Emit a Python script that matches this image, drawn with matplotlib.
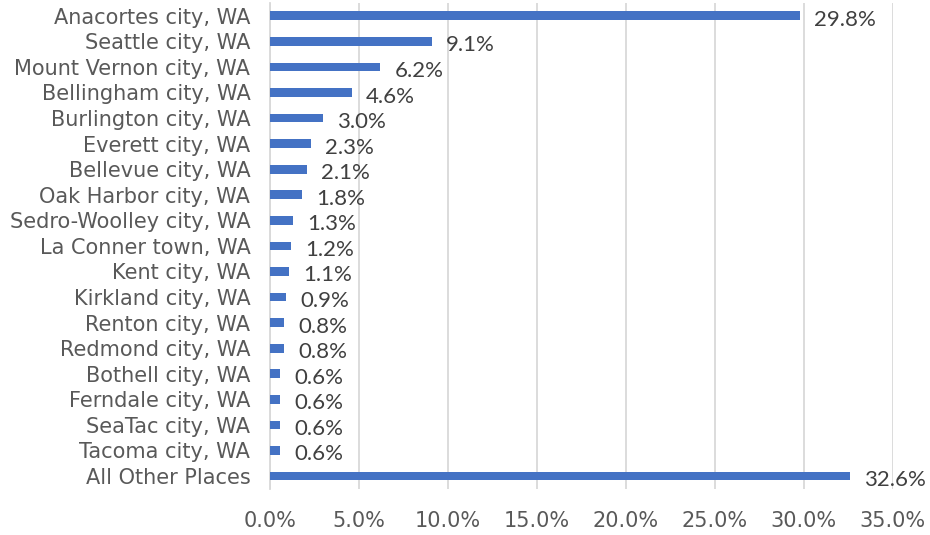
import matplotlib
matplotlib.use("Agg")
import matplotlib.pyplot as plt
from matplotlib.ticker import FuncFormatter

# ── data ────────────────────────────────────────────────────────────────
places = [
    "Anacortes city, WA", "Seattle city, WA", "Mount Vernon city, WA",
    "Bellingham city, WA", "Burlington city, WA", "Everett city, WA",
    "Bellevue city, WA", "Oak Harbor city, WA", "Sedro-Woolley city, WA",
    "La Conner town, WA", "Kent city, WA", "Kirkland city, WA",
    "Renton city, WA", "Redmond city, WA", "Bothell city, WA",
    "Ferndale city, WA", "SeaTac city, WA", "Tacoma city, WA",
    "All Other Places",
]
shares = [29.8, 9.1, 6.2, 4.6, 3.0, 2.3, 2.1, 1.8, 1.3, 1.2,
          1.1, 0.9, 0.8, 0.8, 0.6, 0.6, 0.6, 0.6, 32.6]
x_ticks = [0, 5, 10, 15, 20, 25, 30, 35]

BAR_COLOR = "#4472C4"
GRID_COLOR = "#D9D9D9"
TEXT_COLOR = "#595959"

fig = plt.figure(figsize=(9.3, 5.35), dpi=100)
ax = fig.add_axes([0.290, 0.0864, 0.670, 0.908])

y = list(range(len(places)))
ax.barh(y, shares, height=0.34, color=BAR_COLOR, zorder=3)

# 数据标签（略低于条形中心，与原图一致）
for yi, v in zip(y, shares):
    ax.text(v + 0.8, yi + 0.08, f"{v:.1f}%", va="center_baseline", ha="left",
            fontsize=16, color="#404040", family="Lato")

ax.set_ylim(len(places) - 0.5, -0.5)
ax.set_yticks(y)
ax.set_yticklabels(places, fontsize=15, color=TEXT_COLOR, family="DejaVu Sans")

ax.set_xlim(0, 35)
ax.set_xticks(x_ticks)
ax.xaxis.set_major_formatter(FuncFormatter(lambda v, _: f"{v:.1f}%"))
for lbl in ax.get_xticklabels():
    lbl.set_fontsize(15)
    lbl.set_color(TEXT_COLOR)
    lbl.set_family("DejaVu Sans")

ax.grid(axis="x", color=GRID_COLOR, linewidth=1.3, zorder=0)
ax.tick_params(axis="both", length=0)
ax.tick_params(axis="x", pad=16)
ax.tick_params(axis="y", pad=14)
for side in ["top", "right", "bottom"]:
    ax.spines[side].set_visible(False)
ax.spines["left"].set_color(GRID_COLOR)
ax.spines["left"].set_linewidth(1.3)

plt.savefig("out.png", dpi=100)
plt.close()
